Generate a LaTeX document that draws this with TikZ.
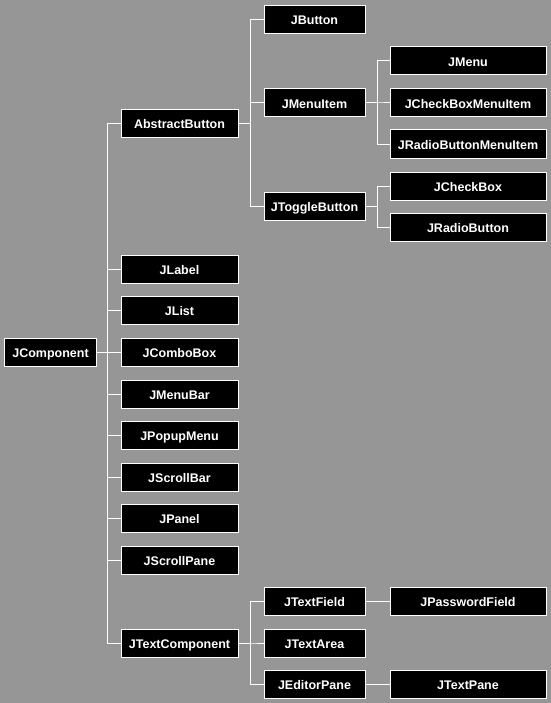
\documentclass[tikz,border=0pt]{standalone}
\usepackage{fontspec}
\setmainfont{Liberation Sans}
\definecolor{bggray}{RGB}{150,150,150}
\begin{document}
\begin{tikzpicture}[x=1bp,y=-1bp,
  cls/.style={draw=white, line width=1bp, fill=black, text=white, inner sep=0pt,
    minimum height=28bp, font=\fontsize{12.5bp}{14bp}\selectfont\bfseries,
    text height=10.5bp, text depth=0pt, align=center},
  c1/.style={cls, minimum width=91bp},
  c2/.style={cls, minimum width=117bp},
  c3/.style={cls, minimum width=101bp},
  c4/.style={cls, minimum width=156bp},
  link/.style={draw=white, line width=1bp}]
\fill[bggray] (0,0) rectangle (551,703);
\useasboundingbox (0,0) rectangle (551,703);

\node[c1] (JComponent) at (50.5,352.5) {JComponent};

\node[c2] (AbstractButton) at (179.5,123.5) {AbstractButton};
\node[c2] (JLabel) at (179.5,269) {JLabel};
\node[c2] (JList) at (179.5,310.5) {JList};
\node[c2] (JComboBox) at (179.5,352.5) {JComboBox};
\node[c2] (JMenuBar) at (179.5,394) {JMenuBar};
\node[c2] (JPopupMenu) at (179.5,435.5) {JPopupMenu};
\node[c2] (JScrollBar) at (179.5,477) {JScrollBar};
\node[c2] (JPanel) at (179.5,518.5) {JPanel};
\node[c2] (JScrollPane) at (179.5,560) {JScrollPane};
\node[c2] (JTextComponent) at (179.5,643) {JTextComponent};

\node[c3] (JButton) at (314.5,19.5) {JButton};
\node[c3] (JMenuItem) at (314.5,103) {JMenuItem};
\node[c3] (JToggleButton) at (314.5,206) {JToggleButton};
\node[c3] (JTextField) at (314.5,601) {JTextField};
\node[c3] (JTextArea) at (314.5,643) {JTextArea};
\node[c3] (JEditorPane) at (314.5,684) {JEditorPane};

\node[c4] (JMenu) at (468,61) {JMenu};
\node[c4] (JCheckBoxMenuItem) at (468,103) {JCheckBoxMenuItem};
\node[c4] (JRadioButtonMenuItem) at (468,144) {JRadioButtonMenuItem};
\node[c4] (JCheckBox) at (468,186) {JCheckBox};
\node[c4] (JRadioButton) at (468,227) {JRadioButton};
\node[c4] (JPasswordField) at (468,601) {JPasswordField};
\node[c4] (JTextPane) at (468,684) {JTextPane};

\foreach \ch in {AbstractButton,JLabel,JList,JComboBox,JMenuBar,JPopupMenu,JScrollBar,JPanel,JScrollPane,JTextComponent}
  \draw[link] (JComponent.east) -| ([xshift=-13bp]\ch.west) -- (\ch.west);
\foreach \ch in {JButton,JMenuItem,JToggleButton}
  \draw[link] (AbstractButton.east) -| ([xshift=-13bp]\ch.west) -- (\ch.west);
\foreach \ch in {JMenu,JCheckBoxMenuItem,JRadioButtonMenuItem}
  \draw[link] (JMenuItem.east) -| ([xshift=-12bp]\ch.west) -- (\ch.west);
\foreach \ch in {JCheckBox,JRadioButton}
  \draw[link] (JToggleButton.east) -| ([xshift=-12bp]\ch.west) -- (\ch.west);
\foreach \ch in {JTextField,JTextArea,JEditorPane}
  \draw[link] (JTextComponent.east) -| ([xshift=-13bp]\ch.west) -- (\ch.west);
\draw[link] (JTextField.east) -- (JPasswordField.west);
\draw[link] (JEditorPane.east) -- (JTextPane.west);
\end{tikzpicture}
\end{document}
